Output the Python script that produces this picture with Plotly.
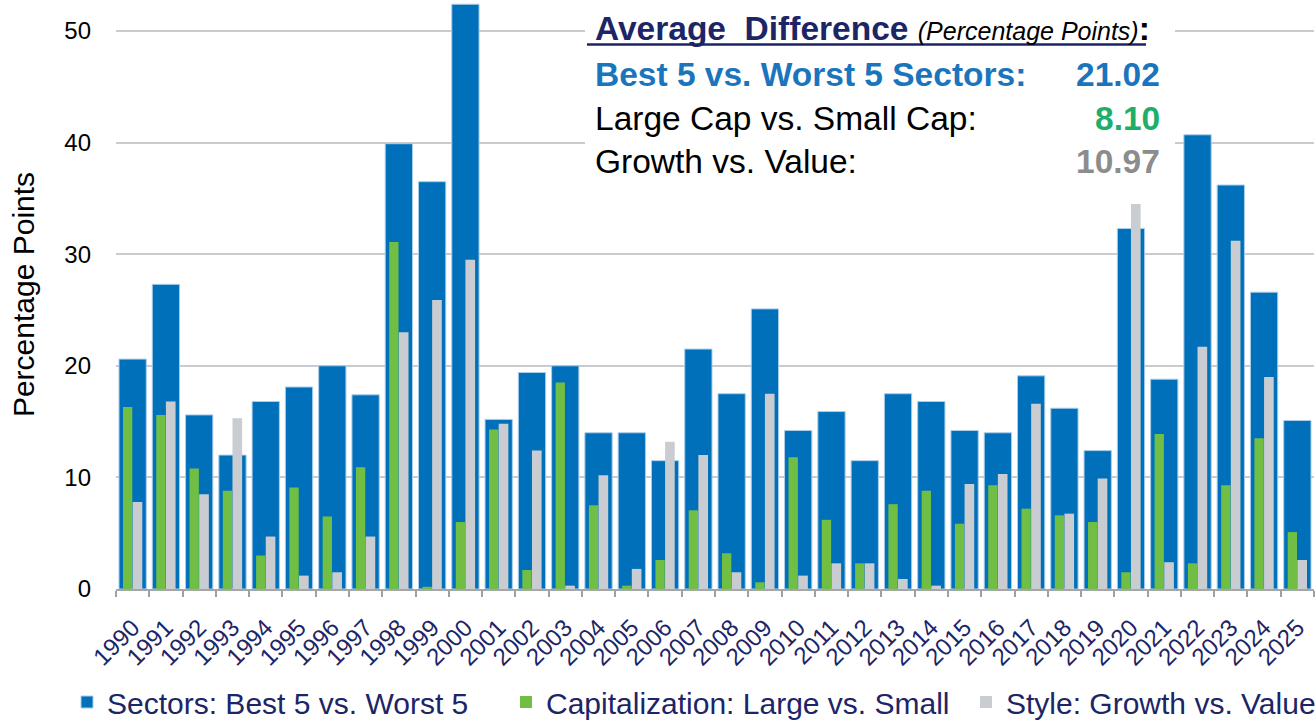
import plotly.graph_objects as go

# ---------------- data ----------------
years = [str(y) for y in range(1990, 2026)]
sectors = [20.6, 27.3, 15.6, 12.0, 16.8, 18.1, 20.0, 17.4, 39.9, 36.5, 52.4, 15.2,
           19.4, 20.0, 14.0, 14.0, 11.5, 21.5, 17.5, 25.1, 14.2, 15.9, 11.5, 17.5,
           16.8, 14.2, 14.0, 19.1, 16.2, 12.4, 32.3, 18.8, 40.7, 36.2, 26.6, 15.1]
cap = [16.3, 15.6, 10.8, 8.8, 3.0, 9.1, 6.5, 10.9, 31.1, 0.2, 6.0, 14.3,
       1.7, 18.5, 7.5, 0.3, 2.6, 7.05, 3.2, 0.6, 11.8, 6.2, 2.3, 7.6,
       8.8, 5.85, 9.3, 7.2, 6.6, 6.0, 1.5, 13.9, 2.3, 9.3, 13.5, 5.1]
style = [7.8, 16.8, 8.5, 15.3, 4.7, 1.2, 1.5, 4.7, 23.0, 25.9, 29.5, 14.8,
         12.4, 0.3, 10.2, 1.8, 13.2, 12.0, 1.5, 17.5, 1.2, 2.3, 2.3, 0.9,
         0.3, 9.4, 10.3, 16.6, 6.75, 9.9, 34.5, 2.4, 21.7, 31.2, 19.0, 2.6]
series_names = ["Sectors: Best 5 vs. Worst 5",
                "Capitalization: Large vs. Small",
                "Style: Growth vs. Value"]
y_ticks = [0, 10, 20, 30, 40, 50]
avg_labels = ["Best 5 vs. Worst 5 Sectors:", "Large Cap vs. Small Cap:", "Growth vs. Value:"]
avg_values = ["21.02", "8.10", "10.97"]

# ---------------- styling ----------------
W, H = 1316, 720
ML, MR, MT, MB = 116, 2, 0, 131
PW, PH = W - ML - MR, H - MT - MB
FONT = "Liberation Sans, Arial, Helvetica, sans-serif"
NAVY = "#1C2566"
BLUE = "#0070BA"
GREEN = "#70BF44"
GREY = "#C9CDD1"


def px(x):
    return (x - ML) / PW


def py(y):
    return (H - MB - y) / PH


fig = go.Figure()
fig.add_bar(x=years, y=sectors, name=series_names[0], width=0.82, offset=-0.41,
            marker=dict(color=BLUE, line=dict(color="#A9CDEB", width=1)), legend="legend")
fig.add_bar(x=years, y=cap, name=series_names[1], width=0.28, offset=-0.29,
            marker=dict(color=GREEN, line=dict(width=0)), legend="legend2")
fig.add_bar(x=years, y=style, name=series_names[2], width=0.29, offset=0.0,
            marker=dict(color=GREY, line=dict(width=0)), legend="legend3")

leg_common = dict(orientation="h", xanchor="left", y=py(702), yanchor="middle",
                  font=dict(size=30, color=NAVY), bgcolor="rgba(0,0,0,0)")

fig.update_layout(
    width=W, height=H,
    margin=dict(l=ML, r=MR, t=MT, b=MB, autoexpand=False),
    barmode="overlay",
    plot_bgcolor="white", paper_bgcolor="white",
    font=dict(family=FONT, color="black"),
    xaxis=dict(type="category", tickangle=-45,
               tickfont=dict(size=24, color=NAVY),
               ticks="outside", tickson="boundaries", ticklen=6,
               tickcolor="#A0A0A0", tickwidth=1.5, ticklabelstandoff=13,
               showline=True, linecolor="#A6A6A6", linewidth=2,
               showgrid=False, fixedrange=True),
    yaxis=dict(range=[0, 52.78], tickvals=y_ticks, tickfont=dict(size=24),
               showgrid=True, gridcolor="#C8CCD0", gridwidth=1.5,
               zeroline=False, showline=False, ticks="",
               ticklabelstandoff=24, fixedrange=True,
               title=dict(text="Percentage Points", font=dict(size=30), standoff=20)),
    legend=dict(x=px(67), **leg_common),
    legend2=dict(x=px(506), **leg_common),
    legend3=dict(x=px(966), **leg_common),
    showlegend=True,
)

# white panel behind the summary box
fig.add_shape(type="rect", xref="paper", yref="paper",
              x0=px(585), x1=px(1175), y0=py(190), y1=py(0),
              fillcolor="white", line=dict(width=0), layer="above")
fig.add_shape(type="line", xref="paper", yref="paper",
              x0=px(587), x1=px(1146), y0=py(44.5), y1=py(44.5),
              line=dict(color=NAVY, width=2.5), layer="above")

fig.add_annotation(
    xref="paper", yref="paper", x=px(593), y=py(28), xanchor="left", yanchor="middle",
    showarrow=False,
    text=("<b>Average\u00a0\u00a0Difference</b> "
          "<span style='font-size:25px;color:black'><i>(Percentage Points)</i></span>"
          "<span style='color:black'><b>:</b></span>"),
    font=dict(size=33.5, color=NAVY, family=FONT))

row_y = [75, 118, 161]
label_colors = ["#1B75BC", "black", "black"]
value_colors = ["#1B75BC", "#1DAE6C", "#8C8C8C"]
for i in range(3):
    lbl = avg_labels[i]
    if i == 0:
        lbl = "<b>" + lbl + "</b>"
    fig.add_annotation(xref="paper", yref="paper", x=px(593), y=py(row_y[i]),
                       xanchor="left", yanchor="middle", showarrow=False, text=lbl,
                       font=dict(size=33.5, color=label_colors[i], family=FONT))
    fig.add_annotation(xref="paper", yref="paper", x=px(1162), y=py(row_y[i]),
                       xanchor="right", yanchor="middle", showarrow=False,
                       text="<b>" + avg_values[i] + "</b>",
                       font=dict(size=33.5, color=value_colors[i], family=FONT))

fig.write_html("out.html", config={"displayModeBar": False},
               post_script="document.body.style.margin='0';")
